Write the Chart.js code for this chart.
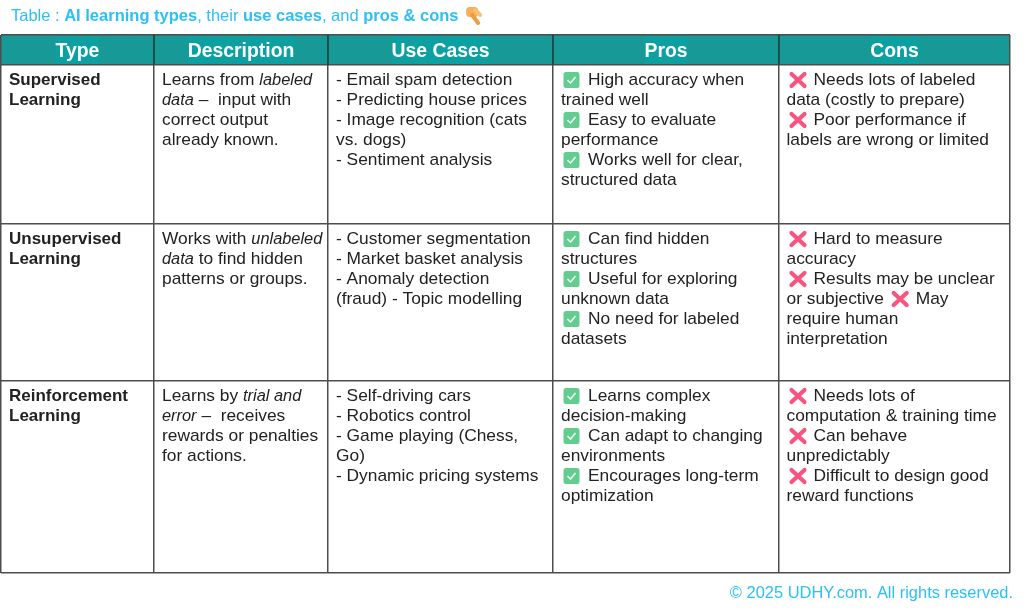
<!DOCTYPE html>
<html>
<head>
<meta charset="utf-8">
<title>AI learning types</title>
<script src="https://cdn.jsdelivr.net/npm/chart.js@4/dist/chart.umd.min.js"></script>
<style>
  html, body { margin: 0; padding: 0; background: #fff; }
  canvas { display: block; filter: blur(0.3px); }
</style>
</head>
<body>
<canvas id="tableChart" width="1024" height="612"></canvas>
<script>
// markup in the strings: *italic*, #bold#, the emoji are drawn as icons
const titleText = 'Table : #AI learning types#, their #use cases#, and #pros & cons# 👇';
const footerText = '© 2025 UDHY.com. All rights reserved.';

const columnNames = ['Type', 'Description', 'Use Cases', 'Pros', 'Cons'];

const typeCells = [
  ['#Supervised#', '#Learning#'],
  ['#Unsupervised#', '#Learning#'],
  ['#Reinforcement#', '#Learning#']
];
const descriptionCells = [
  ['Learns from *labeled*', '*data* –  input with', 'correct output', 'already known.'],
  ['Works with *unlabeled*', '*data* to find hidden', 'patterns or groups.'],
  ['Learns by *trial and*', '*error* –  receives', 'rewards or penalties', 'for actions.']
];
const useCaseCells = [
  ['- Email spam detection', '- Predicting house prices', '- Image recognition (cats', 'vs. dogs)', '- Sentiment analysis'],
  ['- Customer segmentation', '- Market basket analysis', '- Anomaly detection', '(fraud) - Topic modelling'],
  ['- Self-driving cars', '- Robotics control', '- Game playing (Chess,', 'Go)', '- Dynamic pricing systems']
];
const prosCells = [
  ['✅ High accuracy when', 'trained well', '✅ Easy to evaluate', 'performance', '✅ Works well for clear,', 'structured data'],
  ['✅ Can find hidden', 'structures', '✅ Useful for exploring', 'unknown data', '✅ No need for labeled', 'datasets'],
  ['✅ Learns complex', 'decision-making', '✅ Can adapt to changing', 'environments', '✅ Encourages long-term', 'optimization']
];
const consCells = [
  ['❌ Needs lots of labeled', 'data (costly to prepare)', '❌ Poor performance if', 'labels are wrong or limited'],
  ['❌ Hard to measure', 'accuracy', '❌ Results may be unclear', 'or subjective ❌ May', 'require human', 'interpretation'],
  ['❌ Needs lots of', 'computation & training time', '❌ Can behave', 'unpredictably', '❌ Difficult to design good', 'reward functions']
];
const columnCells = [typeCells, descriptionCells, useCaseCells, prosCells, consCells];

// column and row edges of the table, used as the axis ticks
const columnEdges = [0, 153, 327, 552, 778, 1009];
const rowEdges = [0, 30, 189, 346, 538];
const cellPadding = [8, 8, 8, 8, 7.5];

const FONT = '"Liberation Sans", Arial, sans-serif';
const BODY_SIZE = 17.35;
const LINE_HEIGHT = 20;
const TEXT_DARK = '#222222';
const TITLE_BLUE = '#2cc0f6';

function parseRuns(str, boldScale) {
  const runs = [];
  str.split(/(\*[^*]+\*|#[^#]+#|✅ ?|❌ ?|👇)/u).forEach(part => {
    if (!part) return;
    const icon = part.trim();
    if (icon === '✅' || icon === '❌' || icon === '👇') runs.push({ icon });
    else if (part[0] === '*') runs.push({ text: part.slice(1, -1), style: 'italic ', scale: 0.945 });
    else if (part[0] === '#') runs.push({ text: part.slice(1, -1), style: 'bold ', scale: boldScale });
    else runs.push({ text: part, style: '', scale: 1 });
  });
  return runs;
}

function drawCheck(ctx, x, mid) {
  ctx.save();
  ctx.fillStyle = '#63cd90';
  ctx.beginPath();
  ctx.roundRect(x + 2.5, mid - 8, 16, 16, 2.5);
  ctx.fill();
  ctx.strokeStyle = '#eafaf0';
  ctx.lineWidth = 1.6;
  ctx.beginPath();
  ctx.moveTo(x + 6.5, mid);
  ctx.lineTo(x + 9.5, mid + 3);
  ctx.lineTo(x + 14.5, mid - 3);
  ctx.stroke();
  ctx.restore();
}

function drawCross(ctx, x, mid) {
  ctx.save();
  ctx.strokeStyle = '#f7557f';
  ctx.lineWidth = 4.2;
  ctx.lineCap = 'round';
  ctx.beginPath();
  ctx.moveTo(x + 5, mid - 6);
  ctx.lineTo(x + 18, mid + 6);
  ctx.moveTo(x + 18, mid - 6);
  ctx.lineTo(x + 5, mid + 6);
  ctx.stroke();
  ctx.restore();
}

function drawHand(ctx, x, mid) {
  ctx.save();
  ctx.fillStyle = '#f6b057';
  ctx.beginPath();
  ctx.roundRect(x + 1, mid - 9, 12, 10, 3.5);
  ctx.fill();
  ctx.strokeStyle = '#f19a3e';
  ctx.lineWidth = 4;
  ctx.lineCap = 'round';
  ctx.beginPath();
  ctx.moveTo(x + 7, mid - 1);
  ctx.lineTo(x + 13, mid + 7);
  ctx.stroke();
  ctx.strokeStyle = '#f8c079';
  ctx.beginPath();
  ctx.moveTo(x + 10, mid - 6);
  ctx.lineTo(x + 15, mid - 1);
  ctx.stroke();
  ctx.restore();
}

// draws one line of mixed runs, returns the end x
function drawRuns(ctx, str, x, baseline, size, color, boldScale) {
  parseRuns(str, boldScale).forEach(run => {
    if (run.icon === '✅') { drawCheck(ctx, x, baseline - 5); x += 27; return; }
    if (run.icon === '❌') { drawCross(ctx, x, baseline - 5); x += 27; return; }
    if (run.icon === '👇') { drawHand(ctx, x + 2, baseline - 5); x += 20; return; }
    ctx.font = run.style + (size * run.scale) + 'px ' + FONT;
    ctx.fillStyle = color;
    ctx.fillText(run.text, x, baseline);
    x += ctx.measureText(run.text).width;
  });
  return x;
}

const tablePlugin = {
  id: 'tablePlugin',
  beforeDraw(chart) {
    // header band sits under the grid lines
    const { ctx, scales: { x, y } } = chart;
    const top = y.getPixelForValue(rowEdges[0]);
    const bottom = y.getPixelForValue(rowEdges[1]);
    ctx.save();
    ctx.fillStyle = '#179a97';
    ctx.fillRect(x.left, top, x.right - x.left, bottom - top);
    ctx.restore();
  },
  afterDraw(chart) {
    const { ctx, scales: { x, y } } = chart;
    const top = y.getPixelForValue(rowEdges[0]);
    const bottom = y.getPixelForValue(rowEdges[1]);
    ctx.save();
    ctx.textBaseline = 'alphabetic';

    // darker dividers inside the header
    ctx.strokeStyle = '#124a48';
    ctx.lineWidth = 1.5;
    columnEdges.slice(1, -1).forEach(edge => {
      const px = x.getPixelForValue(edge);
      ctx.beginPath();
      ctx.moveTo(px, top);
      ctx.lineTo(px, bottom);
      ctx.stroke();
    });

    // header labels with their slightly brighter highlight
    ctx.font = 'bold 19.4px ' + FONT;
    columnNames.forEach((name, i) => {
      const centre = (x.getPixelForValue(columnEdges[i]) + x.getPixelForValue(columnEdges[i + 1])) / 2;
      const w = ctx.measureText(name).width;
      ctx.fillStyle = '#0ca0a2';
      ctx.fillRect(centre - w / 2, top + 2, w, bottom - top - 3);
      ctx.fillStyle = '#ffffff';
      ctx.textAlign = 'center';
      ctx.fillText(name, centre, top + 22);
    });
    ctx.textAlign = 'left';

    // cell text hangs off the points of each column dataset
    chart.data.datasets.forEach((ds, col) => {
      chart.getDatasetMeta(col).data.forEach((pt, row) => {
        columnCells[col][row].forEach((line, n) => {
          drawRuns(ctx, line, pt.x + cellPadding[col], pt.y + 20 + n * LINE_HEIGHT, BODY_SIZE, TEXT_DARK, 0.98);
        });
      });
    });

    // title and footer outside the table
    drawRuns(ctx, titleText, 11, 21, 16.5, TITLE_BLUE, 1);
    ctx.font = '16.45px ' + FONT;
    ctx.fillStyle = TITLE_BLUE;
    ctx.textAlign = 'right';
    ctx.fillText(footerText, 1013, 598);
    ctx.restore();
  }
};

function edgeTicks(edges) {
  return scale => { scale.ticks = edges.map(value => ({ value })); };
}

new Chart(document.getElementById('tableChart'), {
  type: 'scatter',
  data: {
    datasets: columnNames.map((name, col) => ({
      label: name,
      pointRadius: 0,
      data: columnCells[col].map((cell, row) => ({ x: columnEdges[col], y: rowEdges[row + 1] }))
    }))
  },
  options: {
    responsive: false,
    animation: false,
    devicePixelRatio: 1,
    layout: { padding: { left: 1, right: 14, top: 35, bottom: 39 } },
    plugins: { legend: { display: false }, tooltip: { enabled: false } },
    scales: {
      x: {
        type: 'linear',
        min: columnEdges[0],
        max: columnEdges[columnEdges.length - 1],
        afterBuildTicks: edgeTicks(columnEdges),
        ticks: { display: false },
        border: { display: false },
        grid: { color: '#4d4d4d', lineWidth: 1.5, drawTicks: false }
      },
      y: {
        type: 'linear',
        reverse: true,
        min: rowEdges[0],
        max: rowEdges[rowEdges.length - 1],
        afterBuildTicks: edgeTicks(rowEdges),
        ticks: { display: false },
        border: { display: false },
        grid: { color: '#4d4d4d', lineWidth: 1.5, drawTicks: false }
      }
    }
  },
  plugins: [tablePlugin]
});
</script>
</body>
</html>
